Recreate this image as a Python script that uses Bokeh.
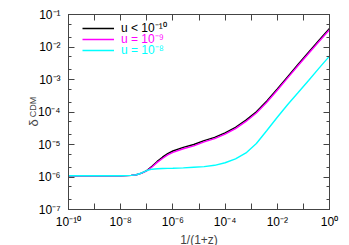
from bokeh.plotting import figure
from bokeh.models import Range1d, FixedTicker, LogAxis, LinearAxis, Legend, LegendItem
from bokeh.embed import file_html
from bokeh.resources import INLINE

# ---- data ----
scale_factor = [1e-10, 1e-9, 1e-8, 1.58e-8, 2.51e-8, 3.98e-8, 6.31e-8, 1e-7, 1.58e-7,
                2.51e-7, 3.98e-7, 6.31e-7, 1e-6, 2.51e-6, 6.31e-6, 1.58e-5, 3.98e-5,
                1e-4, 2.51e-4, 6.31e-4, 1.58e-3, 3.98e-3, 1e-2, 2.51e-2, 6.31e-2,
                0.158, 0.398, 1.0]

delta_u_lt_1e10 = [1.09e-6, 1.09e-6, 1.09e-6, 1.1e-6, 1.12e-6, 1.17e-6, 1.32e-6, 1.58e-6,
                   2.14e-6, 3.02e-6, 4.07e-6, 5.25e-6, 6.31e-6, 8.13e-6, 1.0e-5, 1.32e-5,
                   1.66e-5, 2.29e-5, 3.39e-5, 5.62e-5, 1.02e-4, 2.19e-4, 5.13e-4, 1.23e-3,
                   2.95e-3, 6.92e-3, 1.62e-2, 3.72e-2]

delta_u_1e9 = [1.09e-6, 1.09e-6, 1.09e-6, 1.1e-6, 1.12e-6, 1.17e-6, 1.32e-6, 1.55e-6,
               2.04e-6, 2.82e-6, 3.72e-6, 4.79e-6, 5.75e-6, 7.41e-6, 9.12e-6, 1.2e-5,
               1.51e-5, 2.09e-5, 3.09e-5, 5.13e-5, 9.33e-5, 2.0e-4, 4.68e-4, 1.12e-3,
               2.69e-3, 6.31e-3, 1.48e-2, 3.39e-2]

delta_u_1e8 = [1.09e-6, 1.09e-6, 1.09e-6, 1.1e-6, 1.12e-6, 1.17e-6, 1.33e-6, 1.58e-6,
               1.74e-6, 1.8e-6, 1.82e-6, 1.84e-6, 1.86e-6, 1.91e-6, 2.0e-6, 2.09e-6,
               2.29e-6, 2.75e-6, 3.63e-6, 5.5e-6, 1.07e-5, 2.69e-5, 6.92e-5, 1.7e-4,
               3.98e-4, 9.33e-4, 2.24e-3, 5.25e-3]

x_ticks = [1e-10, 1e-9, 1e-8, 1e-7, 1e-6, 1e-5, 1e-4, 1e-3, 1e-2, 1e-1, 1.0]
x_tick_labels = ["10⁻¹⁰", "", "10⁻⁸", "", "10⁻⁶", "", "10⁻⁴", "", "10⁻²", "", "10⁰"]
y_ticks = [1e-7, 1e-6, 1e-5, 1e-4, 1e-3, 1e-2, 1e-1]
y_tick_labels = ["10⁻⁷", "10⁻⁶", "10⁻⁵", "10⁻⁴", "10⁻³", "10⁻²", "10⁻¹"]
y_minor_ticks = [2e-7, 5e-7, 2e-6, 5e-6, 2e-5, 5e-5, 2e-4, 5e-4, 2e-3, 5e-3, 2e-2, 5e-2]

series = [delta_u_lt_1e10, delta_u_1e9, delta_u_1e8]
legend_labels = ["u < 10⁻¹⁰", "u = 10⁻⁹", "u = 10⁻⁸"]
line_colors = ["#000000", "#ff00ff", "#00ffff"]
label_colors = ["#000000", "#ff00ff", "#00ffff"]
x_label = "1/(1+z)"
y_label_main = "δ"
y_label_sub = "CDM"

FONT = "Liberation Sans"
AX = "#444444"
NB = "\u00a0"

p = figure(frame_width=261, frame_height=195,
           x_axis_type="log", y_axis_type="log",
           x_range=Range1d(1e-10, 1.0), y_range=Range1d(1e-7, 1e-1),
           output_backend="svg", toolbar_location=None,
           min_border_left=68, min_border_right=12,
           min_border_top=14, min_border_bottom=36)

p.xgrid.visible = False
p.ygrid.visible = False
p.outline_line_color = AX
p.outline_line_width = 1
p.background_fill_color = "white"
p.border_fill_color = "white"


def style_axis(ax):
    ax.axis_line_color = AX
    ax.major_tick_line_color = AX
    ax.minor_tick_line_color = AX
    ax.major_tick_in = 6
    ax.major_tick_out = 0
    ax.minor_tick_in = 3
    ax.minor_tick_out = 0
    ax.major_label_text_font = FONT
    ax.major_label_text_color = "#000000"
    ax.major_label_text_font_size = "12px"


p.xaxis.ticker = FixedTicker(ticks=x_ticks, minor_ticks=[])
p.yaxis.ticker = FixedTicker(ticks=y_ticks, minor_ticks=y_minor_ticks)
style_axis(p.xaxis[0])
style_axis(p.yaxis[0])
p.xaxis.major_label_overrides = {t: l for t, l in zip(x_ticks, x_tick_labels)}
p.yaxis.major_label_overrides = {t: l for t, l in zip(y_ticks, y_tick_labels)}
p.xaxis.major_label_standoff = 5
p.yaxis.major_label_standoff = 8
p.xaxis.axis_label = x_label
p.xaxis.axis_label_text_font = FONT
p.xaxis.axis_label_text_font_size = "12px"
p.xaxis.axis_label_text_font_style = "normal"
p.xaxis.axis_label_standoff = 1

# subscript part of the y title sits on the main y axis
p.yaxis.axis_label = NB * 4 + y_label_sub
p.yaxis.axis_label_text_font = FONT
p.yaxis.axis_label_text_font_size = "9px"
p.yaxis.axis_label_text_font_style = "normal"
p.yaxis.axis_label_standoff = -3

# main symbol of the y title on an extra, tickless left axis
outer = LinearAxis(ticker=FixedTicker(ticks=[], minor_ticks=[]),
                   axis_line_alpha=0, major_tick_line_alpha=0, minor_tick_line_alpha=0,
                   axis_label=y_label_main + NB * 6, axis_label_text_font=FONT,
                   axis_label_text_font_size="13px", axis_label_text_font_style="normal",
                   axis_label_standoff=-16, major_label_text_font_size="12px")
p.add_layout(outer, "left")

top = LogAxis(ticker=FixedTicker(ticks=x_ticks, minor_ticks=[]),
              major_label_overrides={t: "" for t in x_ticks}, major_label_standoff=0)
right = LogAxis(ticker=FixedTicker(ticks=y_ticks, minor_ticks=y_minor_ticks),
                major_label_overrides={t: "" for t in y_ticks}, major_label_standoff=0)
style_axis(top)
style_axis(right)
p.add_layout(top, "above")
p.add_layout(right, "right")

renderers = []
for ys, col in zip(series, line_colors):
    r = p.line(scale_factor, ys, line_color=col, line_width=1.4)
    renderers.append(r)

legend_rows_bottom = [173, 162, 151]
for r, lbl, col, yb in zip(renderers, legend_labels, label_colors, legend_rows_bottom):
    lg = Legend(items=[LegendItem(label=lbl, renderers=[r])], location=(14, yb),
                label_text_color=col, label_text_font=FONT, label_text_font_size="12px",
                border_line_alpha=0, background_fill_alpha=0, padding=0, margin=0,
                spacing=0, glyph_width=32, glyph_height=10, label_height=10,
                label_standoff=7)
    p.add_layout(lg)

open("out.html", "w").write(file_html(p, INLINE))
